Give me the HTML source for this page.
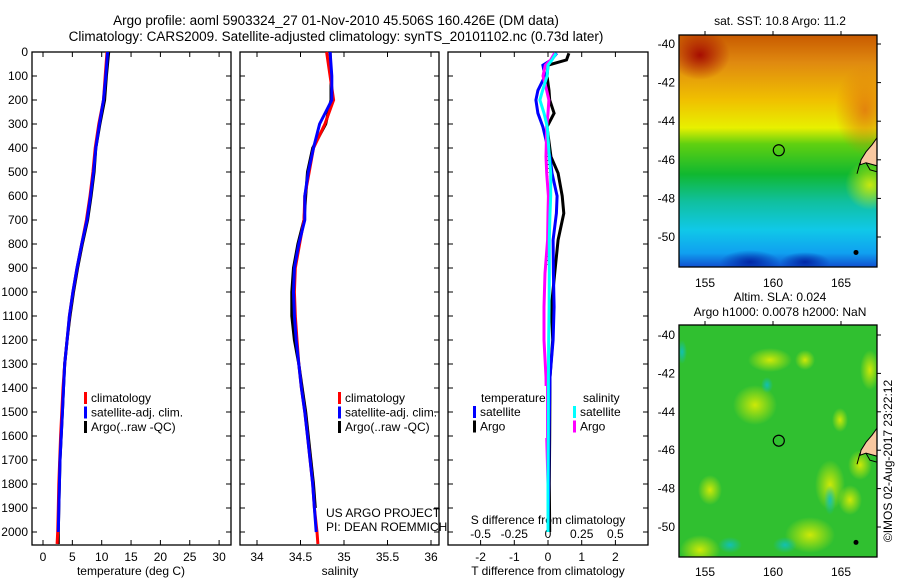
<!DOCTYPE html>
<html><head><meta charset="utf-8"><style>
body{margin:0;background:#fff;}
svg text{font-family:"Liberation Sans",sans-serif;font-size:12px;fill:#000;}
</style></head><body>
<svg id="c" width="900" height="580" xmlns="http://www.w3.org/2000/svg">
<defs>
<linearGradient id="sstg" x1="0" y1="0" x2="0" y2="1">
<stop offset="0" stop-color="#c85a00"/><stop offset="0.12" stop-color="#e08a10"/>
<stop offset="0.28" stop-color="#f0c000"/><stop offset="0.4" stop-color="#e8f000"/>
<stop offset="0.47" stop-color="#60d010"/><stop offset="0.6" stop-color="#10b830"/>
<stop offset="0.72" stop-color="#10c0a0"/><stop offset="0.84" stop-color="#10c8e8"/>
<stop offset="0.94" stop-color="#10a0f0"/><stop offset="1" stop-color="#1050d0"/>
</linearGradient>
<radialGradient id="yb"><stop offset="0" stop-color="#e8f000" stop-opacity="0.85"/><stop offset="1" stop-color="#e8f000" stop-opacity="0"/></radialGradient>
<radialGradient id="cb"><stop offset="0" stop-color="#10c0c0" stop-opacity="0.9"/><stop offset="1" stop-color="#10c0c0" stop-opacity="0"/></radialGradient>
<radialGradient id="db"><stop offset="0" stop-color="#0020a0" stop-opacity="0.9"/><stop offset="1" stop-color="#0020a0" stop-opacity="0"/></radialGradient>
<radialGradient id="rb"><stop offset="0" stop-color="#a00000" stop-opacity="0.9"/><stop offset="1" stop-color="#a00000" stop-opacity="0"/></radialGradient>
<radialGradient id="ob"><stop offset="0" stop-color="#e07010" stop-opacity="0.8"/><stop offset="1" stop-color="#e07010" stop-opacity="0"/></radialGradient>
</defs>
<g id="root"></g>
</svg>
<script>
// ---- data ----
const depths      = [0,100,200,300,400,500,600,700,800,900,1000,1100,1200,1300,1400,1500,1600,1700,1800,1900,2000,2050];
const tempClim    = [10.9,10.6,10.3,9.5,8.9,8.5,8.0,7.4,6.6,5.8,5.1,4.5,4.1,3.7,3.4,3.2,3.0,2.85,2.7,2.6,2.5,2.4];
const tempSat     = [11.0,10.7,10.3,9.6,9.0,8.6,8.1,7.5,6.6,5.8,5.1,4.5,4.1,3.7,3.5,3.3,3.1,2.9,2.8,2.7,2.6,2.6];
const tempArgo    = [11.2,10.8,10.5,9.7,9.0,8.7,8.2,7.6,6.7,5.9,5.2,4.6,4.1,3.7,3.5,3.3,3.1,2.9,2.8,2.7,2.6,2.6];
const salClim     = [34.80,34.84,34.88,34.78,34.65,34.60,34.55,34.54,34.49,34.44,34.43,34.44,34.46,34.48,34.51,34.55,34.58,34.61,34.64,34.66,34.69,34.70];
const salSat      = [34.84,34.86,34.86,34.72,34.65,34.59,34.55,34.55,34.48,34.43,34.42,34.43,34.45,34.48,34.51,34.55,34.58,34.61,34.64,34.66,34.68,34.68];
const salArgo     = [34.84,34.85,34.85,34.79,34.64,34.58,34.56,34.54,34.47,34.42,34.40,34.40,34.43,34.48,34.52,34.56,34.59,34.62,34.65,34.67,34.68,34.68];
const diffDepths  = [5,33,55,100,160,200,255,312,437,505,600,672,783,922,1062,1200,1354,1600,1800,2000];
const tDiffArgo   = [0.62,0.55,0.0,-0.03,0.03,0.05,0.18,-0.03,0.09,0.30,0.42,0.47,0.30,0.20,0.10,0.14,0.06,0.05,0.04,0.05];
const tDiffSat    = [0.26,0.10,-0.15,-0.09,-0.30,-0.36,-0.30,-0.15,0.06,0.12,0.27,0.25,0.15,0.16,0.18,0.15,0.06,0.03,0.02,0.0];
const sDiffArgo   = [0.05,0.02,-0.02,-0.037,-0.01,0.007,0.0,-0.01,-0.015,-0.01,0.003,0.0,-0.003,-0.022,-0.03,-0.03,-0.015,-0.01,0.0,0.0];
const sDiffSat    = [0.06,0.03,0.0,-0.007,-0.04,-0.06,-0.03,-0.005,0.01,0.02,0.02,0.015,0.01,0.01,0.008,0.005,0.003,0.002,0.0,0.0];
const depthTicks  = [0,100,200,300,400,500,600,700,800,900,1000,1100,1200,1300,1400,1500,1600,1700,1800,1900,2000];
const tempTicks   = [0,5,10,15,20,25,30];
const salTicks    = [34,34.5,35,35.5,36];
const salTickLbl  = ["34","34.5","35","35.5","36"];
const tdTicks     = [-2,-1,0,1,2];
const sdTicks     = [-0.5,-0.25,0,0.25,0.5];
const sdTickLbl   = ["-0.5","-0.25","0","0.25","0.5"];
const latTicks    = [-40,-42,-44,-46,-48,-50];
const lonTicks    = [155,160,165];
const argoLon = 160.426, argoLat = -45.506;

// ---- helpers ----
const NS="http://www.w3.org/2000/svg";
const root=document.getElementById('root');
function mk(tag,attrs,parent){const e=document.createElementNS(NS,tag);for(const k in attrs)e.setAttribute(k,attrs[k]);(parent||root).appendChild(e);return e;}
function txt(x,y,s,anchor,parent){const t=mk('text',{x:x,y:y,'text-anchor':anchor||'start'},parent);t.textContent=s;return t;}

const TOP=52, BOT=545;
const yD=d=>52+d*0.24;
const xT=v=>43+v*5.87;
const xS=v=>257+(v-34)*87;
const xTD=v=>548+v*33.7;
const xSD=v=>548+v*134.8;

function panel(x0,x1,name){
  const g=mk('g',{});
  
  
  mk('rect',{x:x0,y:TOP,width:x1-x0,height:BOT-TOP,fill:'none',stroke:'#000','stroke-width':1.3},g);
  depthTicks.forEach(d=>{const y=yD(d);
    mk('line',{x1:x0,y1:y,x2:x0+5,y2:y,stroke:'#000'},g);
    mk('line',{x1:x1-5,y1:y,x2:x1,y2:y,stroke:'#000'},g);});
  return g;
}
function xticks(g,vals,fx,labels,ly){
  vals.forEach((v,i)=>{const x=fx(v);
    mk('line',{x1:x,y1:BOT,x2:x,y2:BOT-5,stroke:'#000'},g);
    mk('line',{x1:x,y1:TOP,x2:x,y2:TOP+5,stroke:'#000'},g);
    if(labels){const t=txt(x,ly,labels[i],'middle',g);}
  });
}
function line(g,xs,ds,fx,color,name,w){
  const pts=xs.map((v,i)=>fx(v).toFixed(1)+','+yD(ds[i]).toFixed(1)).join(' ');
  const p=mk('polyline',{points:pts,fill:'none',stroke:color,'stroke-width':w||3,'stroke-linejoin':'miter'},g);
  
  
  return p;
}
function legend(g,x,y,items){
  items.forEach((it,i)=>{const yy=y+i*14.5;
    mk('rect',{x:x,y:yy-10,width:3,height:12,fill:it[1]},g);
    const t=txt(x+7,yy,it[0],'start',g);
    
    });
}

// titles
let t1=txt(336,25,'Argo profile: aoml 5903324_27 01-Nov-2010 45.506S 160.426E (DM data)','middle');
t1.setAttribute('style','font-size:13.5px');
let t2=txt(336,41,'Climatology: CARS2009. Satellite-adjusted climatology: synTS_20101102.nc (0.73d later)','middle');
t2.setAttribute('style','font-size:13.5px');

// panel 1 temperature
const p1=panel(32,231,'temperature-panel');
depthTicks.forEach(d=>{const t=txt(28,yD(d)+4,String(d),'end',p1);});
xticks(p1,tempTicks,xT,tempTicks.map(String),561);
let a1=txt(131,575,'temperature (deg C)','middle',p1);
line(p1,tempArgo,depths,xT,'#000','argo-temperature-line');
line(p1,tempClim,depths,xT,'#f00','climatology-temperature-line');
line(p1,tempSat.slice(0,21),depths.slice(0,21),xT,'#00f','satellite-temperature-line');
legend(p1,84,402,[['climatology','#f00'],['satellite-adj. clim.','#00f'],['Argo(..raw -QC)','#000']]);

// panel 2 salinity
const p2=panel(240,439,'salinity-panel');
xticks(p2,salTicks,xS,salTickLbl,561);
let a2=txt(340,575,'salinity','middle',p2);
line(p2,salArgo.slice(0,20),depths.slice(0,20),xS,'#000','argo-salinity-line');
line(p2,salClim,depths,xS,'#f00','climatology-salinity-line');
line(p2,salSat.slice(0,21),depths.slice(0,21),xS,'#00f','satellite-salinity-line');
legend(p2,338,402,[['climatology','#f00'],['satellite-adj. clim.','#00f'],['Argo(..raw -QC)','#000']]);
txt(326,517,'US ARGO PROJECT','start',p2);
txt(326,531,'PI: DEAN ROEMMICH','start',p2);

// panel 3 differences
const p3=panel(448,648,'difference-panel');
xticks(p3,tdTicks,xTD,tdTicks.map(String),561);
sdTicks.forEach((v,i)=>{const t=txt(xSD(v),538,sdTickLbl[i],'middle',p3);});
let a3=txt(548,524,'S difference from climatology','middle',p3);
let a4=txt(548,575,'T difference from climatology','middle',p3);
mk('line',{x1:xTD(0),y1:yD(250),x2:xTD(0),y2:yD(900),stroke:'#000','stroke-dasharray':'1,3'},p3);
line(p3,tDiffArgo,diffDepths,xTD,'#000','argo-t-diff-line');
line(p3,tDiffSat,diffDepths,xTD,'#00f','satellite-t-diff-line');
line(p3,sDiffArgo,diffDepths,xSD,'#f0f','argo-s-diff-line');
line(p3,sDiffSat,diffDepths,xSD,'#0ff','satellite-s-diff-line');
const lg=mk('g',{},p3);
mk('rect',{x:472,y:386,width:74,height:52,fill:'#fff'},lg);
txt(481,402,'temperature','start',lg);
txt(583,402,'salinity','start',lg);
legend(lg,473,416,[['satellite','#00f'],['Argo','#000']]);
legend(lg,573,416,[['satellite','#0ff'],['Argo','#f0f']]);

// maps
function mapPanel(y0,y1,lat40y,lat50y,kind,name,titles,lonLabelY){
  const g=mk('g',{});
  
  
  const x0=679,x1=877;
  const lx=lon=>773+(lon-160)*13.6;
  const ly=lat=>lat40y+(-40-lat)*(lat50y-lat40y)/10;
  const clip='clip'+name;
  const cp=mk('clipPath',{id:clip},g);mk('rect',{x:x0,y:y0,width:x1-x0,height:y1-y0},cp);
  const inner=mk('g',{'clip-path':'url(#'+clip+')'},g);
  if(kind==='sst'){
    mk('rect',{x:x0,y:y0,width:x1-x0,height:y1-y0,fill:'url(#sstg)'},inner);
    mk('ellipse',{cx:700,cy:55,rx:30,ry:25,fill:'url(#rb)'},inner);
    mk('ellipse',{cx:865,cy:110,rx:30,ry:45,fill:'url(#ob)'},inner);
    mk('ellipse',{cx:750,cy:262,rx:30,ry:12,fill:'url(#db)'},inner);
    mk('ellipse',{cx:805,cy:262,rx:25,ry:10,fill:'url(#db)'},inner);
    mk('ellipse',{cx:870,cy:185,rx:25,ry:25,fill:'url(#yb)'},inner);
  } else {
    mk('rect',{x:x0,y:y0,width:x1-x0,height:y1-y0,fill:'#30c030'},inner);
    [[755,405,22,20],[770,360,22,12],[830,485,15,25],[810,535,25,18],[700,550,20,15],[710,490,12,15],[860,465,12,15],[805,360,10,10],[840,420,8,12],[870,370,10,20],[850,500,12,15]].forEach(b=>mk('ellipse',{cx:b[0],cy:b[1],rx:b[2],ry:b[3],fill:'url(#yb)'},inner));
    [[682,352,5,12],[767,385,6,8],[730,545,12,8],[785,545,12,8],[830,500,6,15]].forEach(b=>mk('ellipse',{cx:b[0],cy:b[1],rx:b[2],ry:b[3],fill:'url(#cb)'},inner));
  }
  // NZ coast
  const cy=ly(-46);
  mk('path',{d:`M877 ${cy-22} L872 ${cy-15} L866 ${cy-8} L861 ${cy} L860 ${cy+5} L866 ${cy+3} L877 ${cy+6} Z`,fill:'#f8c8a0',stroke:'#000','stroke-width':1},inner);
  mk('path',{d:`M857 ${cy+14} L860 ${cy+3} M866 ${cy+3} L870 ${cy+10} L877 ${cy+12}`,fill:'none',stroke:'#000'},inner);
  mk('circle',{cx:856,cy:ly(-50.8),r:2.5,fill:'#000'},inner);
  mk('rect',{x:x0,y:y0,width:x1-x0,height:y1-y0,fill:'none',stroke:'#000','stroke-width':1.3},g);
  const m=mk('circle',{cx:lx(argoLon),cy:ly(argoLat),r:5.5,fill:'none',stroke:'#000','stroke-width':1.2},g);
  
  latTicks.forEach(l=>{const y=ly(l);
    mk('line',{x1:x1,y1:y,x2:x1+4,y2:y,stroke:'#000'},g);
    const t=txt(675,y+4,String(l),'end',g);});
  lonTicks.forEach(l=>{const x=lx(l);
    mk('line',{x1:x,y1:y0,x2:x,y2:y0-4,stroke:'#000'},g);
    const t=txt(x,lonLabelY,String(l),'middle',g);});
  titles.forEach(tt=>{const t=txt(780,tt[1],tt[0],'middle',g);});
}
mapPanel(35,267,44,237,'sst','sst-map',[['sat. SST: 10.8 Argo: 11.2',25]],287);
mapPanel(325,557,335,527,'sla','sla-map',[['Altim. SLA: 0.024',301],['Argo h1000: 0.0078 h2000: NaN',316]],576);
const st=txt(0,0,'©IMOS 02-Aug-2017 23:22:12','middle');
st.setAttribute('transform','translate(892,461) rotate(-90)');

</script>
</body></html>
